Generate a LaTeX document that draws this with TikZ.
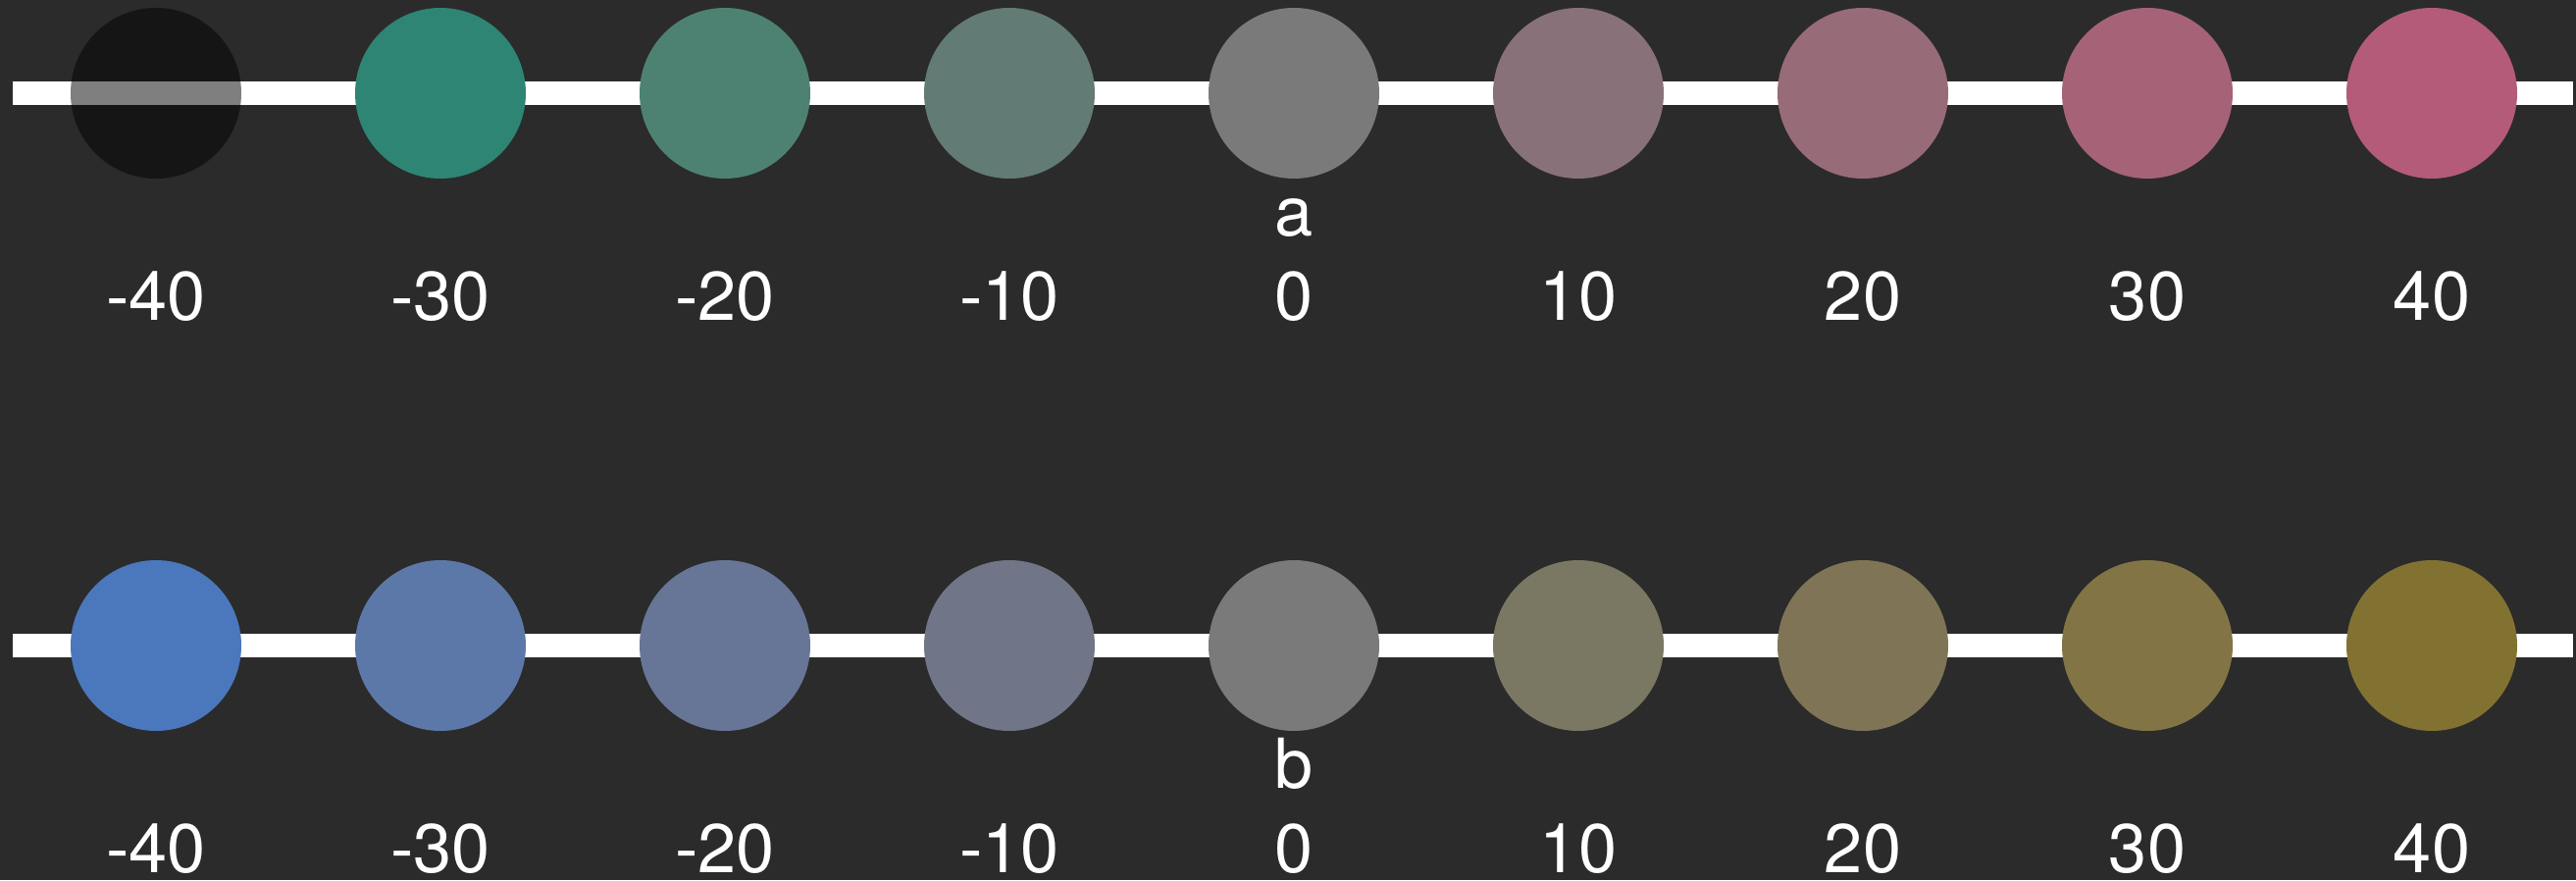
\documentclass[tikz,border=0pt]{standalone}
\usepackage{fontspec}
\setmainfont{TeX Gyre Heros}
\usetikzlibrary{positioning}

\definecolor{bg}{HTML}{2B2B2B}
% row a
\definecolor{aM30}{HTML}{2E8574}
\definecolor{aM20}{HTML}{4D8272}
\definecolor{aM10}{HTML}{627B75}
\definecolor{mid}{HTML}{7A7A7A}
\definecolor{aP10}{HTML}{887178}
\definecolor{aP20}{HTML}{986B79}
\definecolor{aP30}{HTML}{A66377}
\definecolor{aP40}{HTML}{B35B79}
% row b
\definecolor{bM40}{HTML}{4B78BC}
\definecolor{bM30}{HTML}{5C78A8}
\definecolor{bM20}{HTML}{677597}
\definecolor{bM10}{HTML}{707587}
\definecolor{bP10}{HTML}{7A7763}
\definecolor{bP20}{HTML}{7F7556}
\definecolor{bP30}{HTML}{827445}
\definecolor{bP40}{HTML}{827231}

\begin{document}
\begin{tikzpicture}[
  dot/.style={circle, minimum size=17.4mm, inner sep=0pt},
  val/.style={text=white, font=\fontsize{20}{24}\selectfont, anchor=base, inner sep=0pt},
  bar/.style={white, line width=2.4mm}
]
  \useasboundingbox (0,0) rectangle (26.26,8.97);
  \fill[bg] (0,0) rectangle (26.26,8.97);

  % row a
  \coordinate (a-start) at (0.13,8.02);
  \coordinate (a-end) at (26.23,8.02);
  \draw[bar] (a-start) -- (a-end);
  \foreach \v/\c/\o [count=\i from 0] in {-40/black/0.5, -30/aM30/1, -20/aM20/1, -10/aM10/1, 0/mid/1, 10/aP10/1, 20/aP20/1, 30/aP30/1, 40/aP40/1} {
    \node[dot, fill=\c, fill opacity=\o] (a\i) at (1.59+2.9*\i,8.02) {};
    \node[val] (alab\i) at (1.59+2.9*\i,5.71) {\v};
  }
  \node[val] (atitle) at (13.19,6.56) {a};

  % row b
  \coordinate (b-start) at (0.13,2.39);
  \coordinate (b-end) at (26.23,2.39);
  \draw[bar] (b-start) -- (b-end);
  \foreach \v/\c [count=\i from 0] in {-40/bM40, -30/bM30, -20/bM20, -10/bM10, 0/mid, 10/bP10, 20/bP20, 30/bP30, 40/bP40} {
    \node[dot, fill=\c] (b\i) at (1.59+2.9*\i,2.39) {};
    \node[val] (blab\i) at (1.59+2.9*\i,0.08) {\v};
  }
  \node[val] (btitle) at (13.19,0.94) {b};
\end{tikzpicture}
\end{document}
